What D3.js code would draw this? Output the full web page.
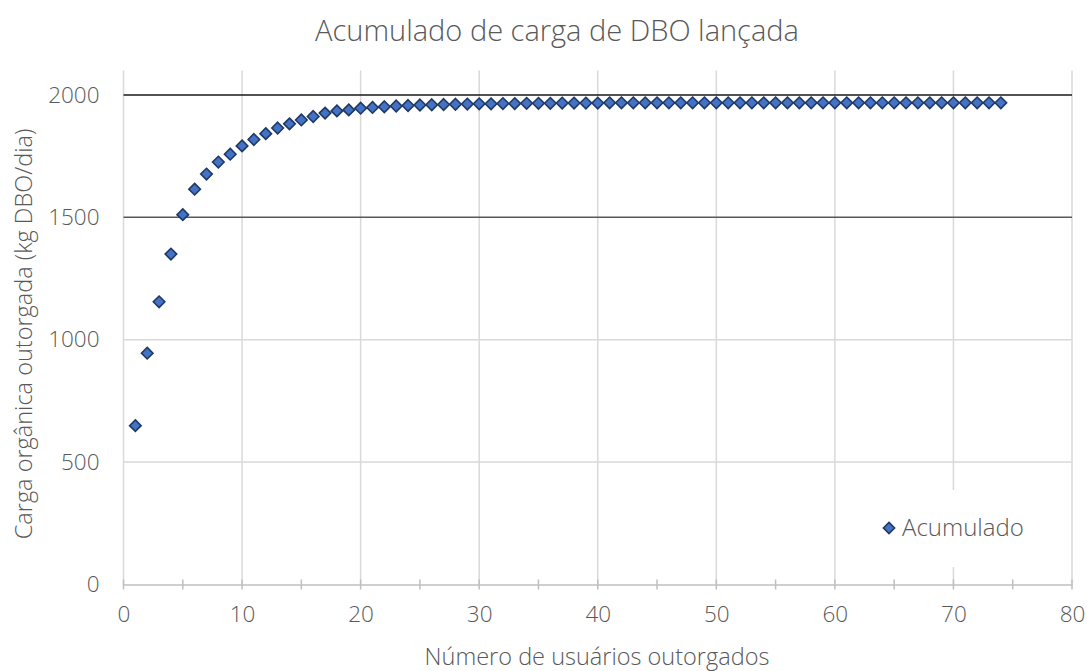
<!DOCTYPE html>
<html>
<head>
<meta charset="utf-8">
<script src="https://cdn.jsdelivr.net/npm/d3@7"></script>
<style>
  html, body { margin: 0; padding: 0; background: #fff; }
  svg { display: block; }
  svg text { font-family: "Open Sans", "Segoe UI", sans-serif; font-weight: 300; fill: #595959; }
</style>
</head>
<body>
<svg id="chart" width="1087" height="671"></svg>
<script>
// Cumulative BOD load granted, by number of licensed users
const usuarios = d3.range(1, 75);
const acumulado = [
  649, 945, 1155, 1350, 1511, 1615, 1677, 1726, 1758, 1792,
  1818, 1842, 1865, 1882, 1898, 1912, 1926, 1935, 1939, 1946,
  1949, 1952, 1955, 1957, 1959, 1960, 1961, 1962, 1963, 1964,
  1964, 1965, 1965, 1966, 1966, 1966, 1967, 1967, 1967, 1967,
  1968, 1968, 1968, 1968, 1968, 1968, 1968, 1968, 1968, 1968,
  1968, 1968, 1968, 1968, 1968, 1968, 1968, 1968, 1968, 1968,
  1968, 1968, 1968, 1968, 1968, 1968, 1968, 1968, 1968, 1968,
  1968, 1968, 1968, 1968
];
const xTicks = [0, 10, 20, 30, 40, 50, 60, 70, 80];
const xMinorTicks = [5, 15, 25, 35, 45, 55, 65, 75];
const yTicks = [0, 500, 1000, 1500, 2000];
const titulo = "Acumulado de carga de DBO lançada";
const tituloX = "Número de usuários outorgados";
const tituloY = "Carga orgânica outorgada (kg DBO/dia)";
const serieNome = "Acumulado";

const svg = d3.select("#chart");
const plotLeft = 123.5, plotRight = 1072, plotTop = 70.5, plotBottom = 584.5;
const tickSize = 22.5, axisTitleSize = 23.5;

const x = d3.scaleLinear().domain([0, 80]).range([plotLeft, plotRight]);
const y = d3.scaleLinear().domain([0, 2100]).range([plotBottom, plotTop]);

// vertical gridlines
svg.append("g").selectAll("line").data(xTicks).join("line")
  .attr("x1", d => x(d)).attr("x2", d => x(d))
  .attr("y1", plotTop).attr("y2", plotBottom)
  .attr("stroke", "#d9d9d9").attr("stroke-width", 1.5);

// horizontal gridlines (upper two drawn darker)
const hColor = { 500: "#d9d9d9", 1000: "#d9d9d9", 1500: "#595959", 2000: "#1a1a1a" };
svg.append("g").selectAll("line").data(yTicks.filter(d => d > 0)).join("line")
  .attr("x1", plotLeft).attr("x2", plotRight)
  .attr("y1", d => y(d)).attr("y2", d => y(d))
  .attr("stroke", d => hColor[d]).attr("stroke-width", 1.5);

// x axis
const xAxis = d3.axisBottom(x).tickValues(xTicks).tickFormat(d3.format("d")).tickSize(0).tickPadding(22);
const gx = svg.append("g").attr("transform", `translate(0,${plotBottom})`).call(xAxis);
gx.attr("font-family", null).attr("font-size", tickSize);
gx.select(".domain").attr("stroke", "#bfbfbf").attr("stroke-width", 1.5);
gx.selectAll("text").attr("fill", null);
svg.append("g").selectAll("line").data(xTicks.concat(xMinorTicks)).join("line")
  .attr("x1", d => x(d)).attr("x2", d => x(d))
  .attr("y1", plotBottom - 5).attr("y2", plotBottom + 5)
  .attr("stroke", "#bfbfbf").attr("stroke-width", 1.5);

// y axis labels
const yAxis = d3.axisLeft(y).tickValues(yTicks).tickFormat(d3.format("d")).tickSize(0).tickPadding(24);
const gy = svg.append("g").attr("transform", `translate(${plotLeft},0)`).call(yAxis);
gy.attr("font-family", null).attr("font-size", tickSize);
gy.select(".domain").remove();
gy.selectAll("text").attr("fill", null);

// markers
const diamond = d3.symbol().type(d3.symbolDiamond2);
svg.append("g").selectAll("path").data(usuarios).join("path")
  .attr("d", diamond.size(85)())
  .attr("transform", (d, i) => `translate(${x(d)},${y(acumulado[i])})`)
  .attr("fill", "#4472c4").attr("stroke", "#1f3864").attr("stroke-width", 1.6);

// legend
const lg = svg.append("g").attr("transform", "translate(870,490)");
lg.append("rect").attr("width", 170).attr("height", 77).attr("fill", "#fff");
lg.append("path").attr("d", diamond.size(80)())
  .attr("transform", "translate(19,38)")
  .attr("fill", "#4472c4").attr("stroke", "#1f3864").attr("stroke-width", 1.6);
lg.append("text").attr("x", 32).attr("y", 46).text(serieNome)
  .attr("font-size", 24);

// titles
svg.append("text").attr("x", 557).attr("y", 41).attr("text-anchor", "middle")
  .attr("font-size", 29).text(titulo);
svg.append("text").attr("x", 597).attr("y", 665).attr("text-anchor", "middle")
  .attr("font-size", axisTitleSize).text(tituloX);
svg.append("text").attr("transform", "translate(32,334) rotate(-90)").attr("text-anchor", "middle")
  .attr("font-size", axisTitleSize).text(tituloY);
</script>
</body>
</html>
